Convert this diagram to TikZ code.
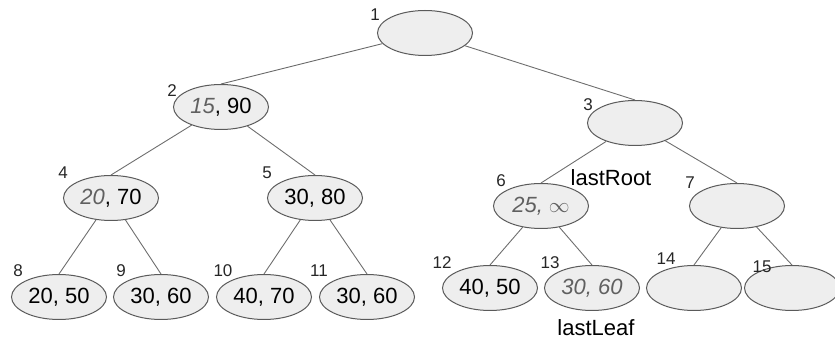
\documentclass[tikz,border=0pt]{standalone}
\usepackage{fontspec}
\setmainfont{Liberation Sans}
\usetikzlibrary{shapes.geometric}
\definecolor{nodefill}{HTML}{EEEEEE}
\definecolor{nodeline}{HTML}{5A5A5A}
\definecolor{edgeline}{HTML}{6E6E6E}
\definecolor{keygray}{HTML}{606060}
\newcommand*{\oldkey}[1]{\textcolor{keygray}{\itshape #1}}

\begin{document}
\begin{tikzpicture}[x=1pt, y=-1pt,
    heap/.style={ellipse, draw=nodeline, fill=nodefill, line width=1pt,
      minimum width=95pt, minimum height=45pt, inner sep=0pt,
      font=\fontsize{22}{24}\selectfont},
    idx/.style={font=\fontsize{17}{19}\selectfont, text=black!85, inner sep=0pt},
    pointer/.style={font=\fontsize{22}{24}\selectfont, inner sep=0pt},
    link/.style={draw=edgeline, line width=0.9pt}]
  \useasboundingbox (0,0) rectangle (835,344);

  % heap nodes
  \node[heap] (n1) at (425,33) {};
  \node[heap] (n2) at (221,107) {\oldkey{15}, 90};
  \node[heap] (n3) at (635,123) {};
  \node[heap] (n4) at (111,198) {\oldkey{20}, 70};
  \node[heap] (n5) at (315,198) {30, 80};
  \node[heap] (n6) at (541,206) {\oldkey{25, $\infty$}};
  \node[heap] (n7) at (737,206) {};
  \node[heap] (n8) at (59,297) {20, 50};
  \node[heap] (n9) at (161,297) {30, 60};
  \node[heap] (n10) at (264,297) {40, 70};
  \node[heap] (n11) at (367,297) {30, 60};
  \node[heap] (n12) at (490,288) {40, 50};
  \node[heap] (n13) at (592,288) {\oldkey{30, 60}};
  \node[heap] (n14) at (694,288) {};
  \node[heap] (n15) at (792,288) {};

  % array indices
  \foreach \i/\x/\y in {1/375/15, 2/172/91, 3/588/105, 4/63/173, 5/267/173,
      6/501/181, 7/690/183, 8/18/271, 9/121/271, 10/223/271, 11/319/271,
      12/442/263, 13/550/263, 14/666/259, 15/762/267}
    \node[idx] (i\i) at (\x,\y) {\i};

  % tree links
  \foreach \a/\b in {n1/n2, n1/n3, n2/n4, n2/n5, n3/n6, n3/n7, n4/n8, n4/n9,
      n5/n10, n5/n11, n6/n12, n6/n13, n7/n14, n7/n15}
    \draw[link] (\a) -- (\b.north);

  % markers
  \node[pointer] (lastroot) at (611,178) {lastRoot};
  \node[pointer] (lastleaf) at (596,328) {lastLeaf};
\end{tikzpicture}
\end{document}
